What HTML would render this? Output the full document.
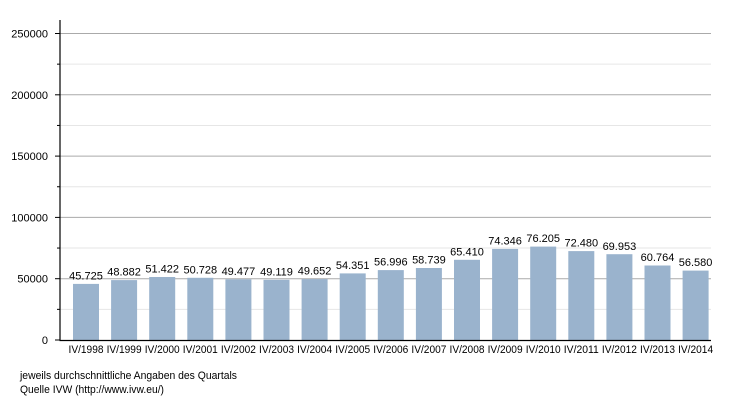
<!DOCTYPE html>
<html><head><meta charset="utf-8"><style>body{margin:0;background:#fff}svg{display:block;font-family:"Liberation Sans",sans-serif}</style></head><body>
<svg width="740" height="400" viewBox="0 0 740 400">
<g stroke="#e6e6e6" stroke-width="1">
<line x1="60" x2="711" y1="64.15" y2="64.15"/><line x1="60" x2="711" y1="125.45" y2="125.45"/><line x1="60" x2="711" y1="186.75" y2="186.75"/><line x1="60" x2="711" y1="248.05" y2="248.05"/><line x1="60" x2="711" y1="309.35" y2="309.35"/>
</g>
<g stroke="#aaa" stroke-width="1">
<line x1="60" x2="711" y1="33.5" y2="33.5"/><line x1="60" x2="711" y1="94.8" y2="94.8"/><line x1="60" x2="711" y1="156.1" y2="156.1"/><line x1="60" x2="711" y1="217.4" y2="217.4"/><line x1="60" x2="711" y1="278.7" y2="278.7"/>
</g>
<g fill="#9ab3cd">
<rect x="73" y="283.9" width="26" height="56.1"/>
<rect x="111.1" y="280.1" width="26" height="59.9"/>
<rect x="149.2" y="277" width="26" height="63"/>
<rect x="187.3" y="277.8" width="26" height="62.2"/>
<rect x="225.4" y="279.3" width="26" height="60.7"/>
<rect x="263.5" y="279.8" width="26" height="60.2"/>
<rect x="301.6" y="279.1" width="26" height="60.9"/>
<rect x="339.7" y="273.4" width="26" height="66.6"/>
<rect x="377.8" y="270.1" width="26" height="69.9"/>
<rect x="415.9" y="268" width="26" height="72"/>
<rect x="454" y="259.8" width="26" height="80.2"/>
<rect x="492.1" y="248.9" width="26" height="91.1"/>
<rect x="530.2" y="246.6" width="26" height="93.4"/>
<rect x="568.3" y="251.1" width="26" height="88.9"/>
<rect x="606.4" y="254.2" width="26" height="85.8"/>
<rect x="644.5" y="265.5" width="26" height="74.5"/>
<rect x="682.6" y="270.6" width="26" height="69.4"/>
</g>
<g stroke="#000" stroke-width="1.2">
<line x1="60" x2="60" y1="20" y2="340.5"/><line x1="59.5" x2="711" y1="340.5" y2="340.5"/>
</g>
<g stroke="#000" stroke-width="1">
<line x1="55" x2="60" y1="33.5" y2="33.5"/><line x1="55" x2="60" y1="94.8" y2="94.8"/><line x1="55" x2="60" y1="156.1" y2="156.1"/><line x1="55" x2="60" y1="217.4" y2="217.4"/><line x1="55" x2="60" y1="278.7" y2="278.7"/><line x1="55" x2="60" y1="340" y2="340"/>
<line x1="57" x2="60" y1="64.15" y2="64.15"/><line x1="57" x2="60" y1="125.45" y2="125.45"/><line x1="57" x2="60" y1="186.75" y2="186.75"/><line x1="57" x2="60" y1="248.05" y2="248.05"/><line x1="57" x2="60" y1="309.35" y2="309.35"/>
</g>
<g font-size="11" fill="#000" text-anchor="end">
<text x="48" y="37.5">250000</text><text x="48" y="98.8">200000</text><text x="48" y="160.1">150000</text><text x="48" y="221.4">100000</text><text x="48" y="282.7">50000</text><text x="48" y="344">0</text>
</g>
<g font-size="11" fill="#000" text-anchor="middle">
<text x="86" y="279.5">45.725</text><text x="124.1" y="275.7">48.882</text><text x="162.2" y="272.6">51.422</text><text x="200.3" y="273.4">50.728</text><text x="238.4" y="274.9">49.477</text><text x="276.5" y="275.4">49.119</text><text x="314.6" y="274.7">49.652</text><text x="352.7" y="269">54.351</text><text x="390.8" y="265.7">56.996</text><text x="428.9" y="263.6">58.739</text><text x="467" y="255.4">65.410</text><text x="505.1" y="244.5">74.346</text><text x="543.2" y="242.2">76.205</text><text x="581.3" y="246.7">72.480</text><text x="619.4" y="249.8">69.953</text><text x="657.5" y="261.1">60.764</text><text x="695.6" y="266.2">56.580</text>
</g>
<g font-size="11" fill="#000" text-anchor="middle">
<text x="86" y="353" textLength="35" lengthAdjust="spacingAndGlyphs">IV/1998</text><text x="124.1" y="353" textLength="35" lengthAdjust="spacingAndGlyphs">IV/1999</text><text x="162.2" y="353" textLength="35" lengthAdjust="spacingAndGlyphs">IV/2000</text><text x="200.3" y="353" textLength="35" lengthAdjust="spacingAndGlyphs">IV/2001</text><text x="238.4" y="353" textLength="35" lengthAdjust="spacingAndGlyphs">IV/2002</text><text x="276.5" y="353" textLength="35" lengthAdjust="spacingAndGlyphs">IV/2003</text><text x="314.6" y="353" textLength="35" lengthAdjust="spacingAndGlyphs">IV/2004</text><text x="352.7" y="353" textLength="35" lengthAdjust="spacingAndGlyphs">IV/2005</text><text x="390.8" y="353" textLength="35" lengthAdjust="spacingAndGlyphs">IV/2006</text><text x="428.9" y="353" textLength="35" lengthAdjust="spacingAndGlyphs">IV/2007</text><text x="467" y="353" textLength="35" lengthAdjust="spacingAndGlyphs">IV/2008</text><text x="505.1" y="353" textLength="35" lengthAdjust="spacingAndGlyphs">IV/2009</text><text x="543.2" y="353" textLength="35" lengthAdjust="spacingAndGlyphs">IV/2010</text><text x="581.3" y="353" textLength="35" lengthAdjust="spacingAndGlyphs">IV/2011</text><text x="619.4" y="353" textLength="35" lengthAdjust="spacingAndGlyphs">IV/2012</text><text x="657.5" y="353" textLength="35" lengthAdjust="spacingAndGlyphs">IV/2013</text><text x="695.6" y="353" textLength="35" lengthAdjust="spacingAndGlyphs">IV/2014</text>
</g>
<g font-size="11" fill="#000">
<text x="20" y="379" textLength="217" lengthAdjust="spacingAndGlyphs">jeweils durchschnittliche Angaben des Quartals</text>
<text x="20" y="393" textLength="144" lengthAdjust="spacingAndGlyphs">Quelle IVW (http://www.ivw.eu/)</text>
</g>
</svg>
</body></html>
